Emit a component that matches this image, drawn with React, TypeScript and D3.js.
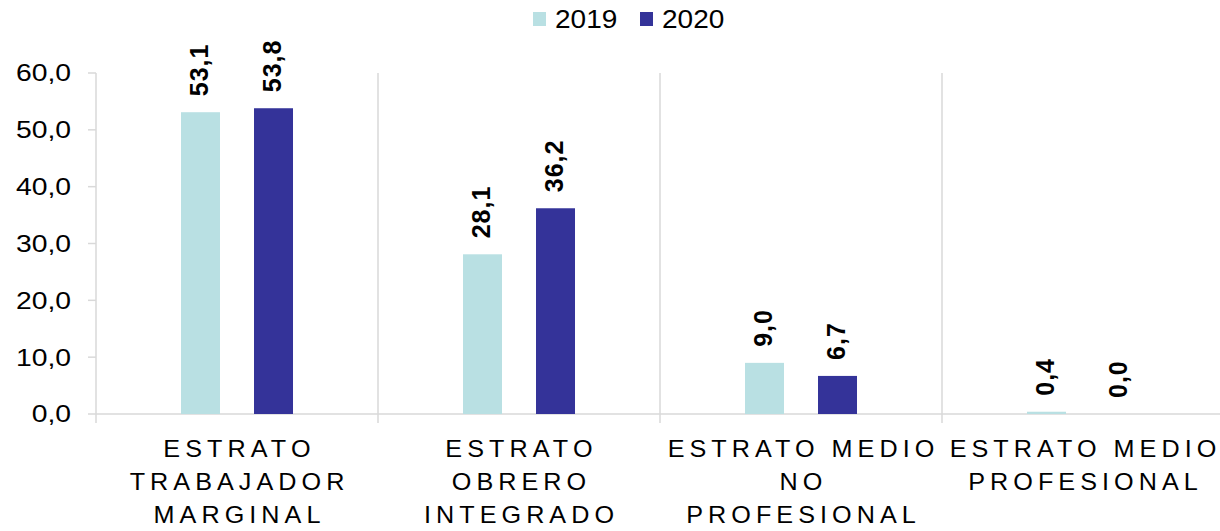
import * as d3 from "d3";

const categories = ["c1", "c2", "c3", "c4"];
const categoryLines = [
  ["ESTRATO", "TRABAJADOR", "MARGINAL"],
  ["ESTRATO", "OBRERO", "INTEGRADO"],
  ["ESTRATO MEDIO", "NO", "PROFESIONAL"],
  ["ESTRATO MEDIO", "PROFESIONAL"],
];
const seriesNames = ["2019", "2020"];
const values2019 = [53.1, 28.1, 9.0, 0.4];
const values2020 = [53.8, 36.2, 6.7, 0.0];
const yTicks = [0, 10, 20, 30, 40, 50, 60];
const colors = ["#b9e0e3", "#343399"];

const width = 1220;
const height = 531;
const marginLeft = 96;
const marginTop = 73;
const bottomY = 414;
const fmt = (v: number) => v.toFixed(1).replace(".", ",");

export default function App() {
  const x = d3.scaleBand(categories, [marginLeft, marginLeft + 282 * 4]);
  const xs = d3
    .scaleBand(seriesNames, [0, x.bandwidth()])
    .paddingInner(0.466)
    .paddingOuter(1.164);
  const y = d3.scaleLinear([0, 60], [bottomY, marginTop]);
  const series = [values2019, values2020];
  const font = "'Liberation Sans', Arial, sans-serif";

  return (
    <svg
      width={width}
      height={height}
      style={{ position: "absolute", left: 0, top: 0 }}
      fontFamily={font}
    >
      {/* legend */}
      <g>
        {seriesNames.map((s, i) => (
          <g key={s} transform={`translate(${533 + i * 107},0)`}>
            <rect x={0} y={12} width={13} height={14} fill={colors[i]} />
            <text
              transform={`translate(22,28) scale(1.12,1)`}
              fontSize={25}
              fill="#000"
            >
              {s}
            </text>
          </g>
        ))}
      </g>

      {/* gridlines, axis, ticks */}
      <g stroke="#d9d9d9" strokeWidth={1.5}>
        {categories.map((c, i) =>
          i === 0 ? null : (
            <line key={c} x1={x(c)} x2={x(c)} y1={marginTop} y2={bottomY + 9} />
          )
        )}
        <line x1={marginLeft} x2={marginLeft} y1={marginTop} y2={bottomY + 9} />
        <line x1={marginLeft} x2={width} y1={bottomY} y2={bottomY} />
        {yTicks.map((t) => (
          <line key={t} x1={marginLeft - 8} x2={marginLeft} y1={y(t)} y2={y(t)} />
        ))}
      </g>

      {/* y labels */}
      <g fontSize={24} textAnchor="end" fill="#000">
        {yTicks.map((t) => (
          <text
            key={t}
            transform={`translate(71,${y(t)}) scale(1.18,1)`}
            dy="0.35em"
          >
            {fmt(t)}
          </text>
        ))}
      </g>

      {/* bars */}
      {series.map((vals, si) => (
        <g key={si} fill={colors[si]}>
          {categories.map((c, ci) => {
            const bx = (x(c) as number) + (xs(seriesNames[si]) as number);
            return (
              <rect
                key={c}
                x={bx}
                y={y(vals[ci])}
                width={xs.bandwidth()}
                height={y(0) - y(vals[ci])}
              />
            );
          })}
        </g>
      ))}

      {/* value labels */}
      <g fontSize={25} fontWeight="bold" fill="#000">
        {series.map((vals, si) =>
          categories.map((c, ci) => {
            const cx =
              (x(c) as number) + (xs(seriesNames[si]) as number) + xs.bandwidth() / 2;
            const ty = y(vals[ci]) - 16;
            return (
              <text
                key={`${si}-${c}`}
                transform={`translate(${cx},${ty}) rotate(-90)`}
                dy="0.3em"
                letterSpacing={1}
              >
                {fmt(vals[ci])}
              </text>
            );
          })
        )}
      </g>

      {/* category labels */}
      <g fontSize={24} textAnchor="middle" fill="#000">
        {categories.map((c, ci) => {
          const cx = (x(c) as number) + x.bandwidth() / 2;
          return (
            <g key={c}>
              {categoryLines[ci].map((line, li) => (
                <text
                  key={li}
                  transform={`translate(${cx},${457 + li * 33}) scale(1.05,1)`}
                >
                  <tspan letterSpacing={4.8}>{line.slice(0, -1)}</tspan>
                  <tspan letterSpacing={0}>{line.slice(-1)}</tspan>
                </text>
              ))}
            </g>
          );
        })}
      </g>
    </svg>
  );
}
